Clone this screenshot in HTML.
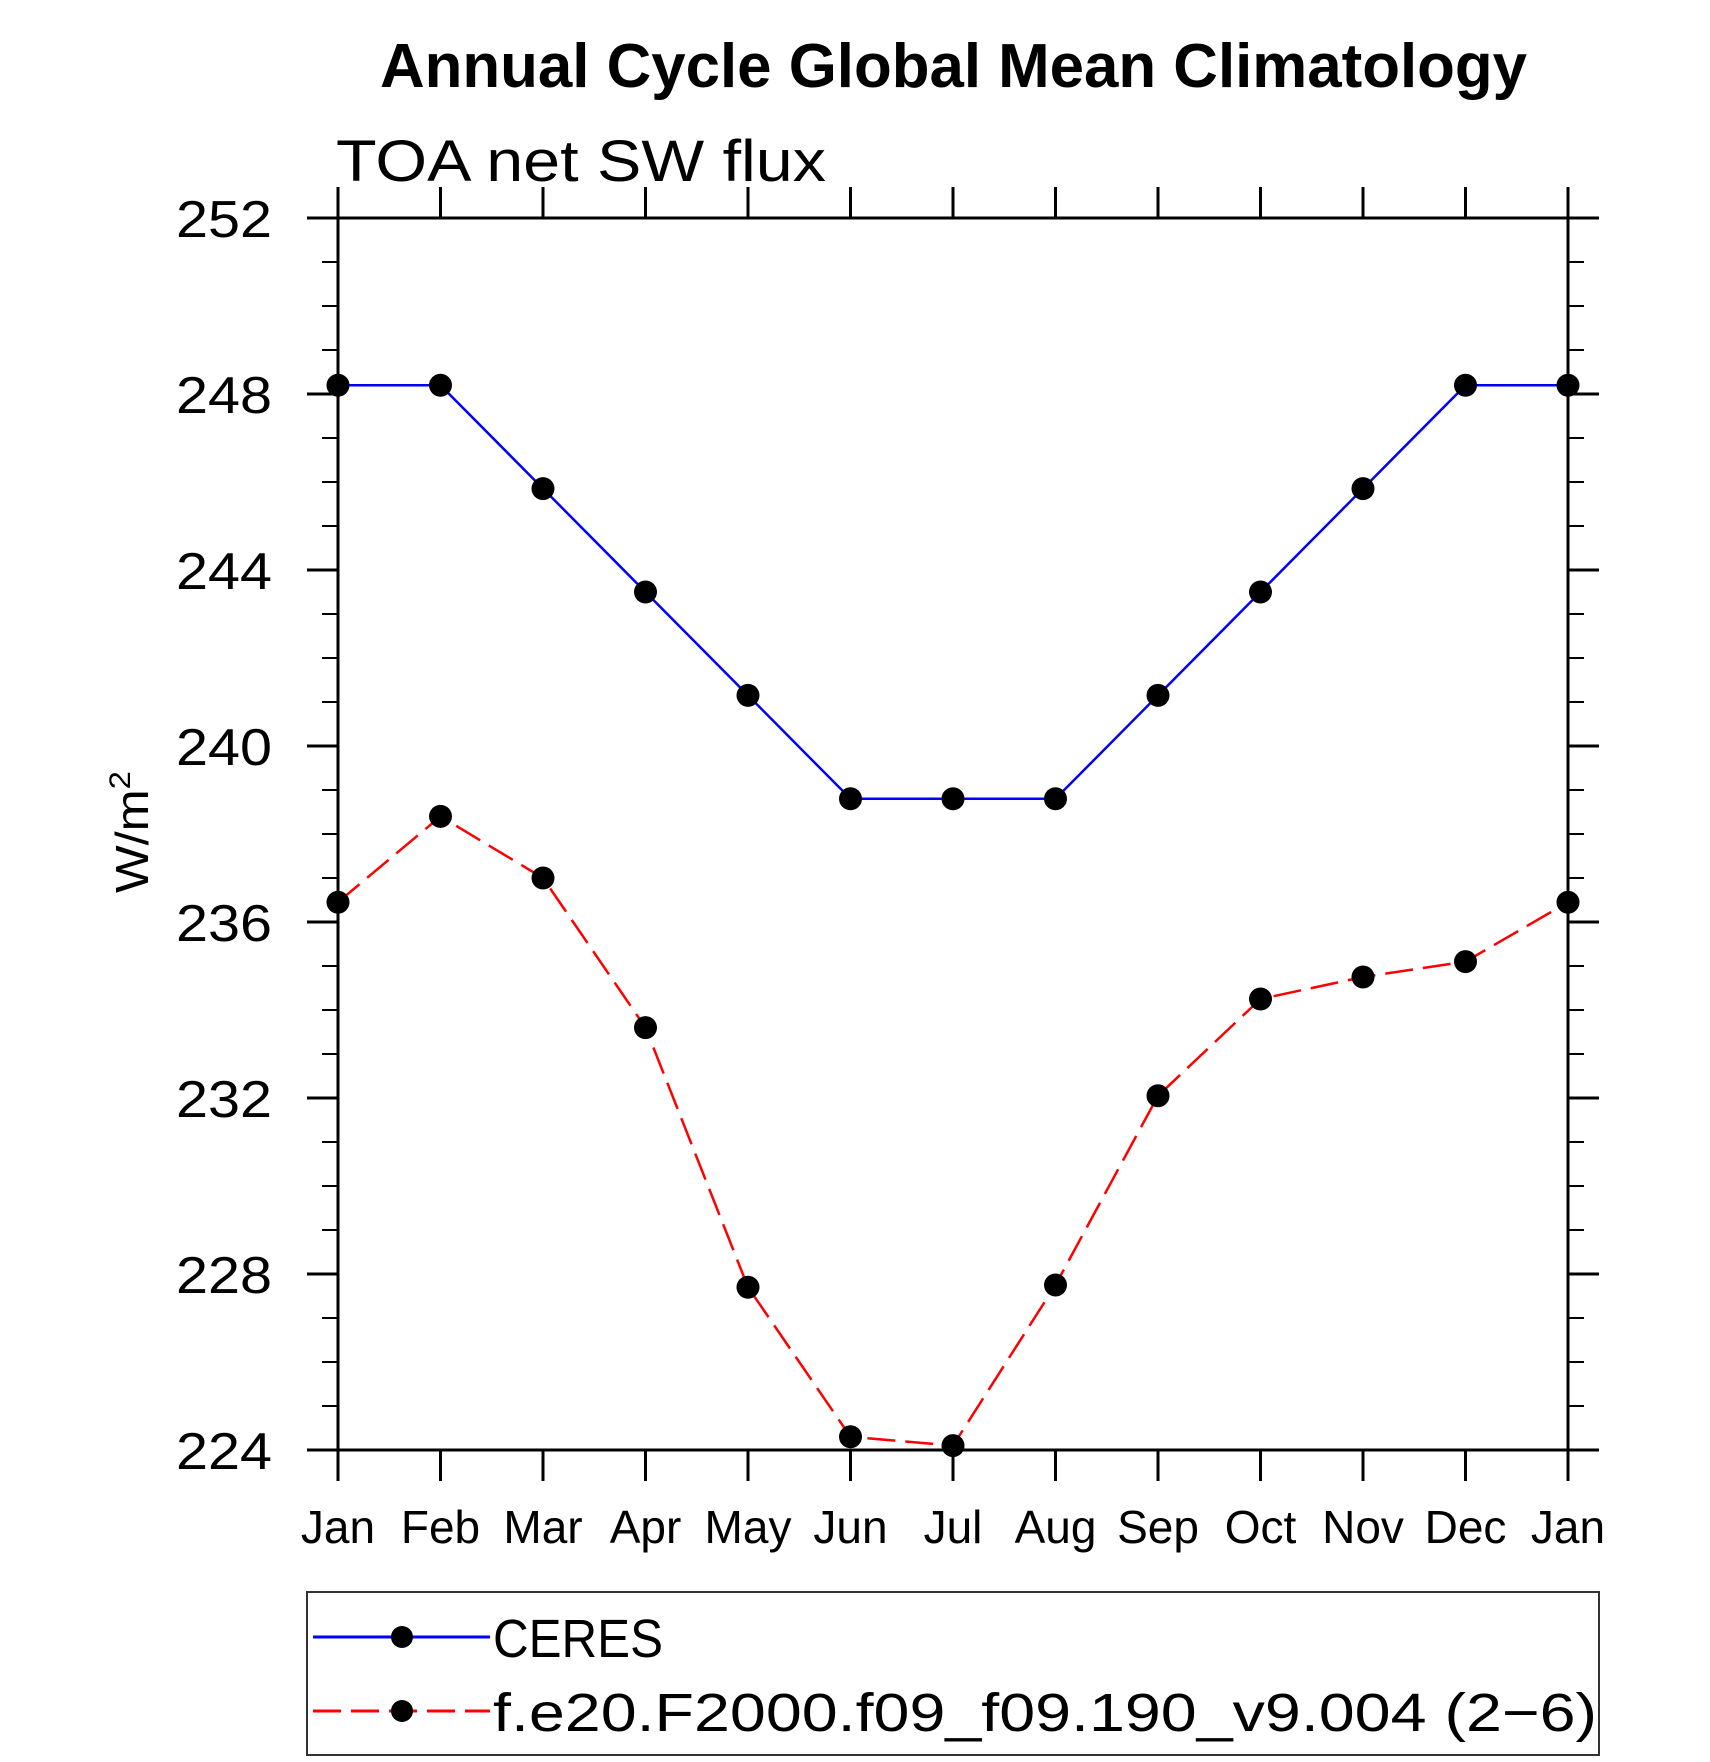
<!DOCTYPE html>
<html><head><meta charset="utf-8"><style>
html,body{margin:0;padding:0;background:#fff;}
svg{display:block;}
text{font-family:"Liberation Sans",sans-serif;}
</style></head><body>
<svg id="chart" width="1710" height="1762" viewBox="0 0 1710 1762" xmlns="http://www.w3.org/2000/svg">
<text x="380" y="87" font-size="62" font-weight="bold" textLength="1147" lengthAdjust="spacingAndGlyphs">Annual Cycle Global Mean Climatology</text>
<text x="336" y="181" font-size="58" textLength="490" lengthAdjust="spacingAndGlyphs">TOA net SW flux</text>
<text transform="translate(148,832) rotate(-90)" text-anchor="middle" font-size="46" textLength="122" lengthAdjust="spacingAndGlyphs">W/m<tspan font-size="30" dy="-18">2</tspan></text>
<g id="plot"></g>
<rect x="307" y="1592" width="1292" height="163" fill="none" stroke="#333" stroke-width="2"/>
<g>
<line x1="313" y1="1637" x2="490" y2="1637" stroke="#0000ff" stroke-width="3"/>
<circle cx="402" cy="1637" r="11" fill="#000"/>
<text x="493" y="1657" font-size="54" textLength="170" lengthAdjust="spacingAndGlyphs">CERES</text>
</g>
<g>
<line x1="313" y1="1711" x2="490" y2="1711" stroke="#ff0000" stroke-width="3" stroke-dasharray="28 10"/>
<circle cx="402" cy="1711" r="11" fill="#000"/>
<text x="493" y="1731" font-size="54" textLength="1104" lengthAdjust="spacingAndGlyphs">f.e20.F2000.f09_f09.190_v9.004 (2−6)</text>
</g>
</svg>
<script>
const months = ["Jan","Feb","Mar","Apr","May","Jun","Jul","Aug","Sep","Oct","Nov","Dec","Jan"];
const ceres = [248.2,248.2,245.85,243.5,241.15,238.8,238.8,238.8,241.15,243.5,245.85,248.2,248.2];
const model = [236.45,238.4,237.0,233.6,227.7,224.3,224.1,227.75,232.05,234.25,234.75,235.1,236.45];
const yTicks = [224,228,232,236,240,244,248,252];
const yMin = 224, yMax = 252;

const L=338,R=1568,T=218,B=1450;
const NS="http://www.w3.org/2000/svg";
const g=document.getElementById('plot');
const xs=i=>L+(R-L)*i/(months.length-1);
const ys=v=>B-(B-T)*(v-yMin)/(yMax-yMin);
function mk(tag,attrs,parent){const e=document.createElementNS(NS,tag);for(const k in attrs)e.setAttribute(k,attrs[k]);(parent||g).appendChild(e);return e;}

for(let v=yMin;v<=yMax;v+=1){
  if(v%4===0)continue;
  const y=ys(v);
  const a=mk('line',{x1:L-16,y1:y,x2:L,y2:y,stroke:'#000','stroke-width':2});
  
  
  const b=mk('line',{x1:R,y1:y,x2:R+16,y2:y,stroke:'#000','stroke-width':2});
  
  
}
yTicks.forEach(v=>{
  const y=ys(v);
  const a=mk('line',{x1:L-31,y1:y,x2:L,y2:y,stroke:'#000','stroke-width':3});
  
  
  const b=mk('line',{x1:R,y1:y,x2:R+31,y2:y,stroke:'#000','stroke-width':3});
  
  
  const t=mk('text',{x:272,y:y+19,'text-anchor':'end','font-size':52,textLength:96,lengthAdjust:'spacingAndGlyphs'});
  t.textContent=v;
  
  
});
months.forEach((m,i)=>{
  const x=xs(i);
  const a=mk('line',{x1:x,y1:T-31,x2:x,y2:T,stroke:'#000','stroke-width':3});
  
  
  const b=mk('line',{x1:x,y1:B,x2:x,y2:B+31,stroke:'#000','stroke-width':3});
  
  
  const t=mk('text',{x:x,y:1543,'text-anchor':'middle','font-size':46});
  t.textContent=m;
  
  
});
const f=mk('rect',{x:L,y:T,width:R-L,height:B-T,fill:'none',stroke:'#000','stroke-width':3});


function series(vals,color,dash,name){
  const pts=vals.map((v,i)=>xs(i)+','+ys(v)).join(' ');
  const p=mk('polyline',{points:pts,fill:'none',stroke:color,'stroke-width':2.5});
  if(dash)p.setAttribute('stroke-dasharray',dash);
  
  
  vals.forEach((v,i)=>{
    const c=mk('circle',{cx:xs(i),cy:ys(v),r:11.5,fill:'#000'});
    
    
  });
}
series(model,'#ff0000','28 10','model');
series(ceres,'#0000ff',null,'ceres');
</script>
</body></html>
